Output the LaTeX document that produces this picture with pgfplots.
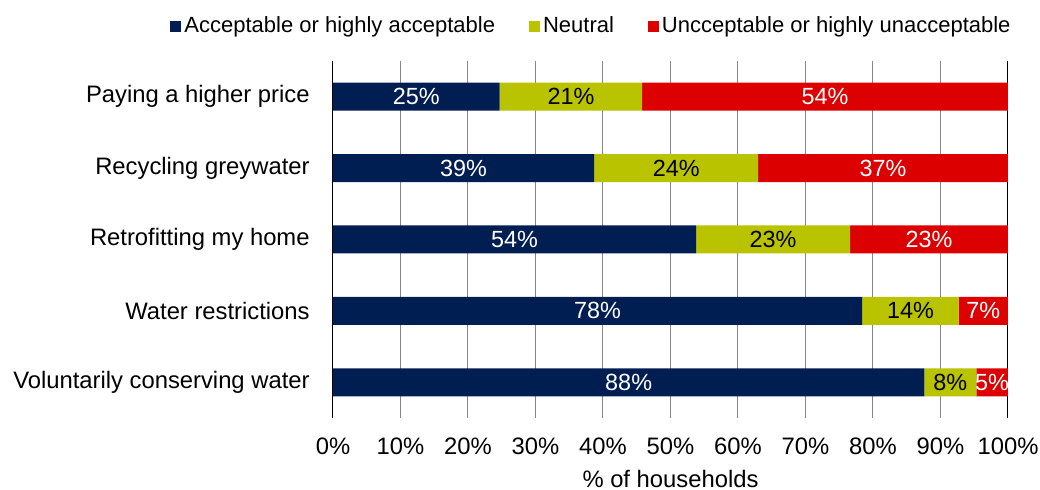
\documentclass[border=0pt]{standalone}
\usepackage{pgfplots}
\pgfplotsset{compat=1.18}
\usepackage{fontspec}
\setmainfont{Liberation Sans}
\definecolor{cblue}{RGB}{0,30,82}
\definecolor{cgreen}{RGB}{185,195,0}
\definecolor{cred}{RGB}{220,0,0}
\definecolor{cgrid}{RGB}{134,134,134}
\begin{document}
\begin{tikzpicture}[font=\fontsize{11.9}{14.3}\selectfont]
\useasboundingbox (-166.5pt,-36pt) rectangle (353.5pt,209pt);
\begin{axis}[
  at={(0,0)}, anchor=south west,
  scale only axis, width=337.5pt, height=178.5pt,
  xbar stacked, bar width=14pt,
  xmin=0, xmax=100, ymin=-0.5, ymax=4.5, y dir=reverse,
  xtick={0,10,...,100},
  xticklabels={0\%,10\%,20\%,30\%,40\%,50\%,60\%,70\%,80\%,90\%,100\%},
  ytick={0,1,2,3,4},
  yticklabels={Paying a higher price, Recycling greywater, Retrofitting my home\ , Water restrictions, Voluntarily conserving water},
  major tick length=0pt,
  xmajorgrids, major grid style={cgrid, line width=0.5pt},
  separate axis lines,
  x axis line style={draw=none},
  y axis line style={black, line width=0.5pt},
  xticklabel style={anchor=north, inner sep=0pt, yshift=-9.5pt},
  yticklabel style={anchor=east, inner sep=0pt, xshift=-11.5pt},
  xlabel={\% of households},
  xlabel style={at={(axis description cs:0.5,0)}, anchor=north, inner sep=0pt, yshift=-26pt},
  legend columns=3,
  legend style={at={(axis description cs:0.3837,1.098)}, anchor=center, draw=none, fill=none, inner sep=0pt,
    /tikz/every even column/.append style={column sep=15.5pt},
    nodes={inner sep=1.5pt, font=\fontsize{11}{13}\selectfont}},
  legend image code/.code={\fill[#1] (0pt,-2.75pt) rectangle (5.5pt,2.75pt);},
]
\addplot[fill=cblue, draw=none] coordinates {(24.7,0) (38.7,1) (53.8,2) (78.4,3) (87.6,4)};
\addplot[fill=cgreen, draw=none] coordinates {(21.1,0) (24.3,1) (22.8,2) (14.3,3) (7.7,4)};
\addplot[fill=cred, draw=none] coordinates {(54.2,0) (37.0,1) (23.4,2) (7.3,3) (4.7,4)};
\legend{Acceptable or highly acceptable, Neutral, Uncceptable or highly unacceptable}
\end{axis}
\begin{axis}[
  at={(0,0)}, anchor=south west,
  scale only axis, width=337.5pt, height=178.5pt,
  xmin=0, xmax=100, ymin=-0.5, ymax=4.5, y dir=reverse, hide axis,
  nodes near coords, point meta=explicit symbolic, nodes near coords align=center,
  every node near coord/.append style={font=\fontsize{11.7}{14}\selectfont, inner sep=0pt, anchor=center},
]
\addplot[draw=none, mark=none, every node near coord/.append style={text=white}] coordinates {
 (12.35,0) [25\%] (19.35,1) [39\%] (26.9,2) [54\%] (39.2,3) [78\%] (43.8,4) [88\%]};
\addplot[draw=none, mark=none, every node near coord/.append style={text=black}] coordinates {
 (35.25,0) [21\%] (50.85,1) [24\%] (65.2,2) [23\%] (85.55,3) [14\%] (91.45,4) [8\%]};
\addplot[draw=none, mark=none, every node near coord/.append style={text=white}] coordinates {
 (72.9,0) [54\%] (81.5,1) [37\%] (88.3,2) [23\%] (96.35,3) [7\%] (97.65,4) [5\%]};
\end{axis}
\end{tikzpicture}
\end{document}
